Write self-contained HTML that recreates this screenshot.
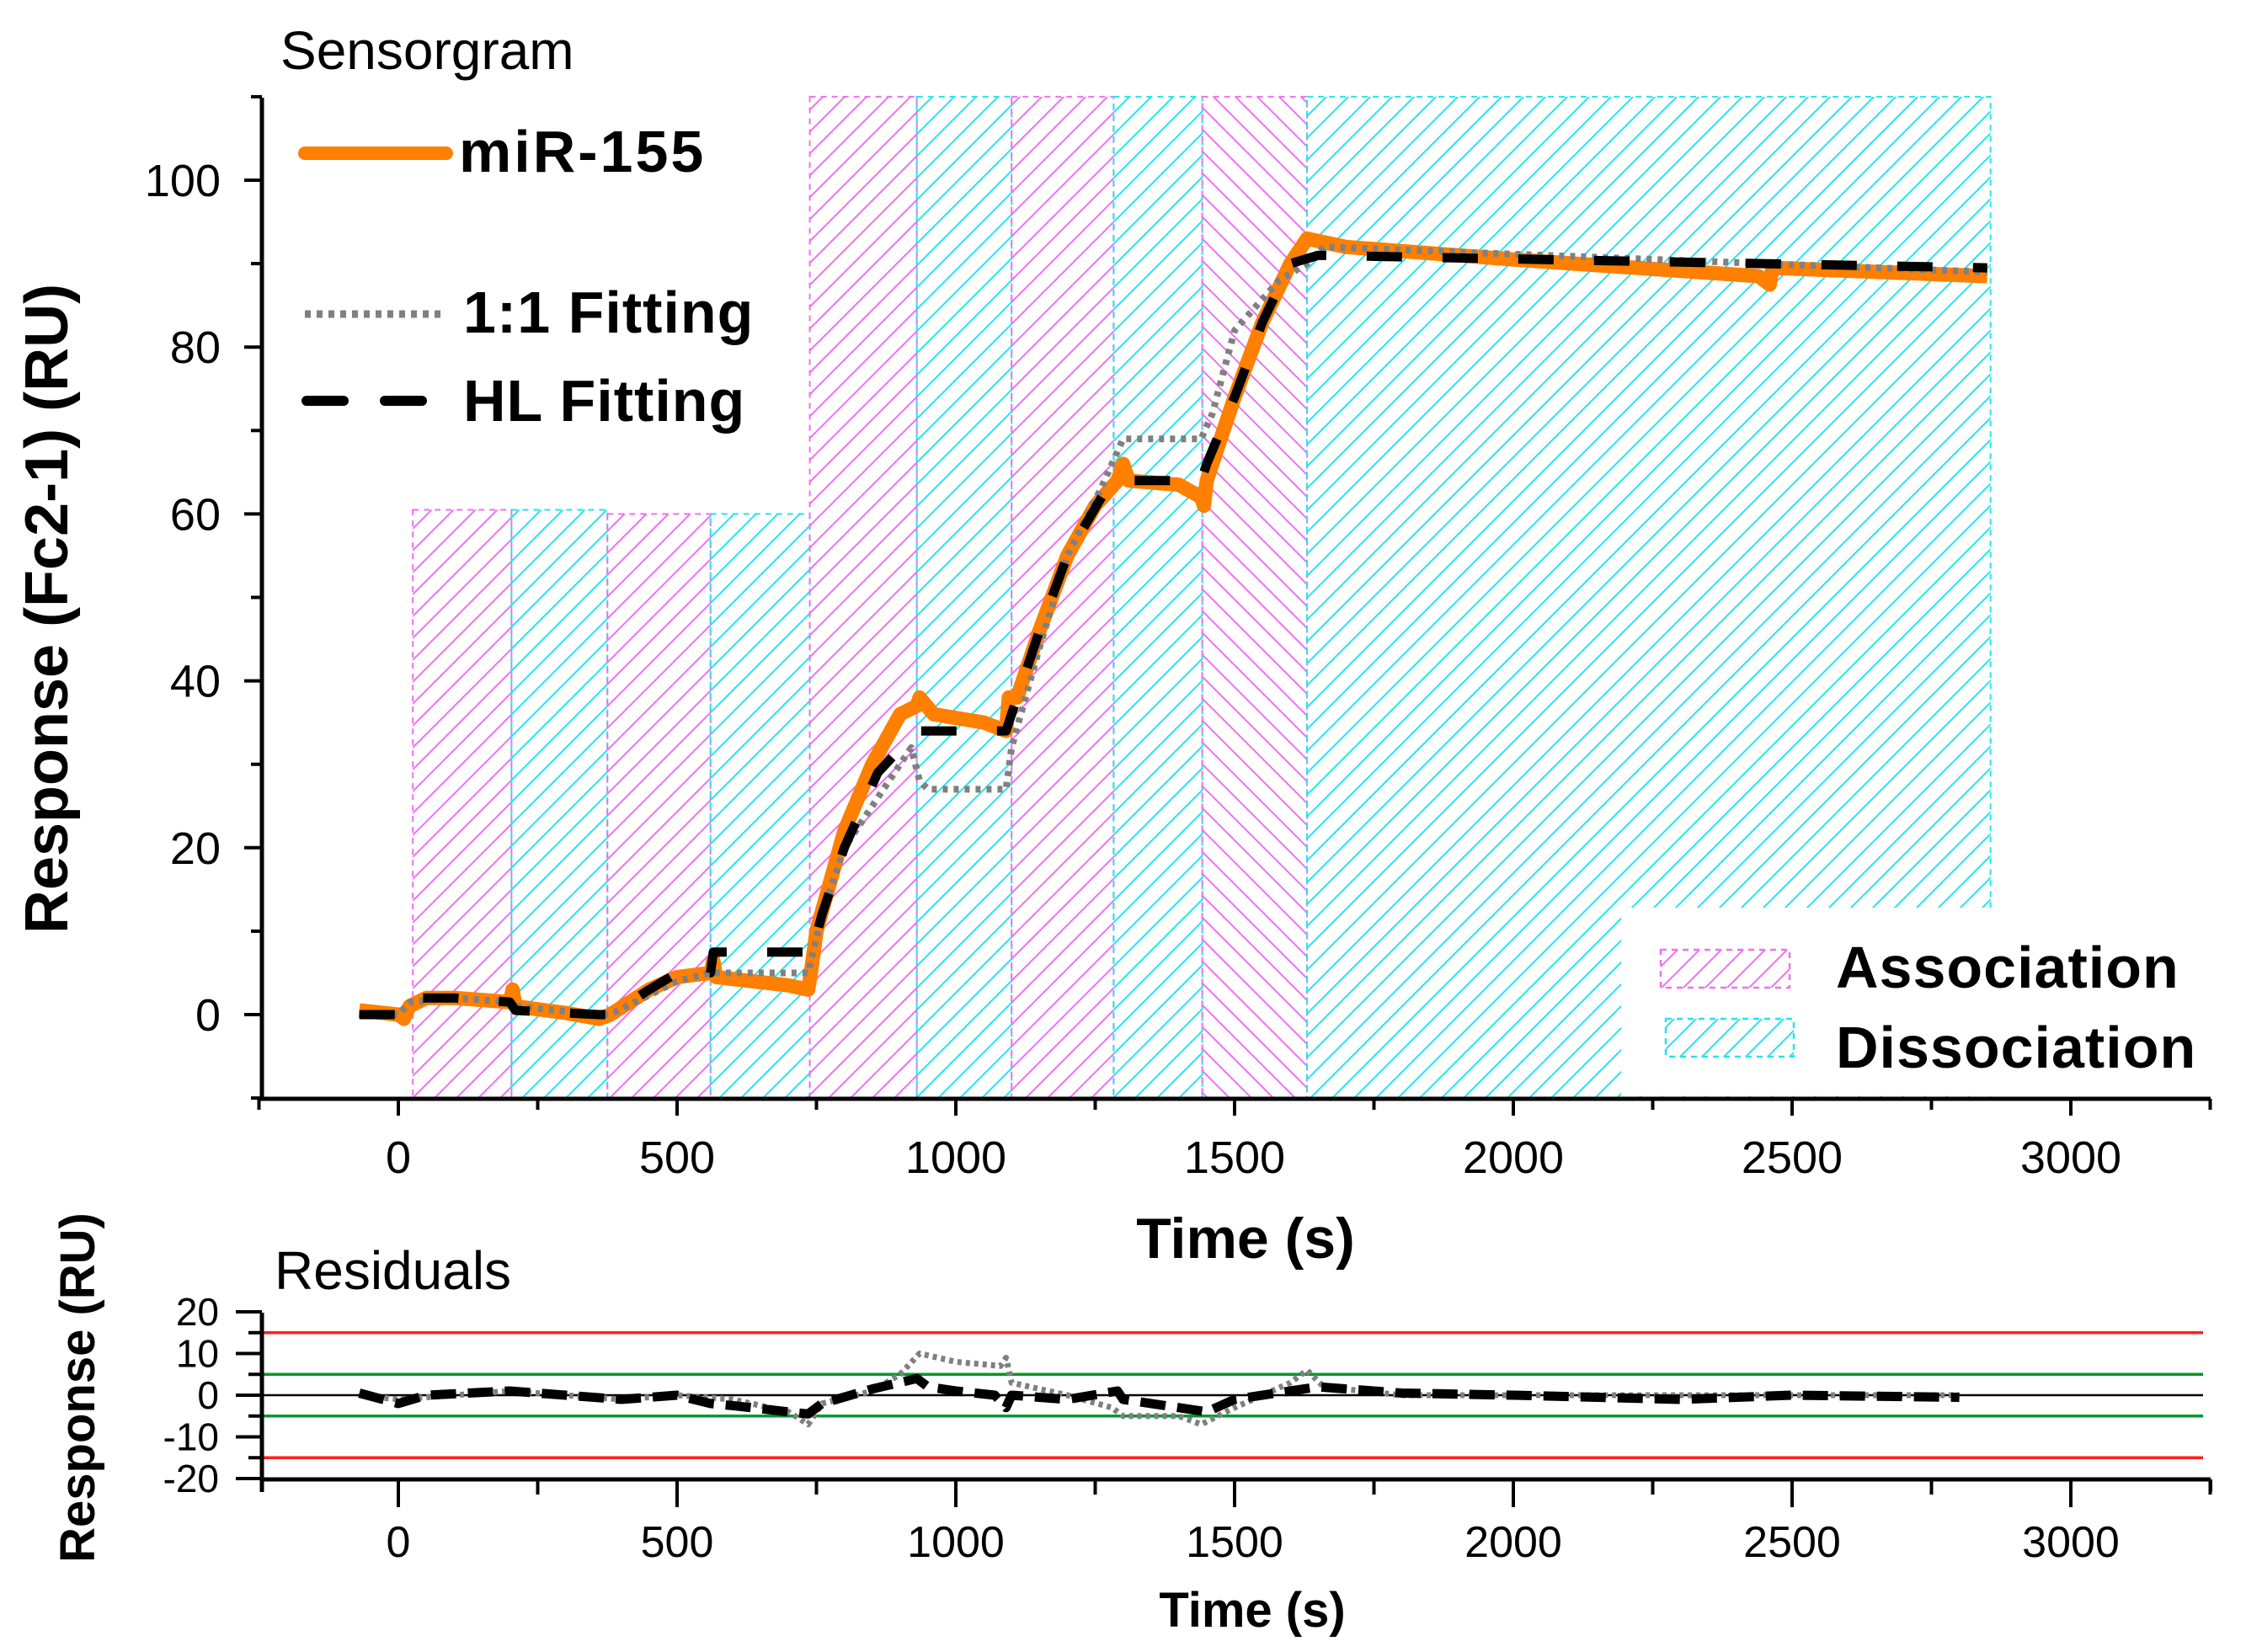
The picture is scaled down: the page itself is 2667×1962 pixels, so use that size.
<!DOCTYPE html>
<html><head><meta charset="utf-8"><style>
html,body{margin:0;padding:0;background:#fff;}
svg{display:block;font-family:"Liberation Sans",Arial,sans-serif;}
</style></head><body>
<svg id="chart" width="2667" height="1962" viewBox="0 0 2667 1962" xmlns="http://www.w3.org/2000/svg">
<defs>
<pattern id="hp" patternUnits="userSpaceOnUse" width="26" height="26"><path d="M-5,31 L31,-5 M-5,5 L5,-5 M21,31 L31,21" stroke="#f070f0" stroke-width="2"/></pattern>
<pattern id="hp2" patternUnits="userSpaceOnUse" width="26" height="26"><path d="M-5,-5 L31,31 M21,-5 L31,5 M-5,21 L5,31" stroke="#f070f0" stroke-width="2"/></pattern>
<pattern id="hc" patternUnits="userSpaceOnUse" width="26" height="26"><path d="M-5,31 L31,-5 M-5,5 L5,-5 M21,31 L31,21" stroke="#22e6ee" stroke-width="2"/></pattern>
<clipPath id="clipMain"><rect x="311" y="100" width="2330" height="1205"/></clipPath>
</defs>
<g id="regions" clip-path="url(#clipMain)"></g>
<rect x="1925" y="1078" width="720" height="224" fill="#fff"/>
<g id="main"></g>
<g id="resid"></g>
<g id="texts" fill="#000">
<text x="333" y="82" font-size="64">Sensorgram</text>
<text transform="translate(80,723) rotate(-90)" text-anchor="middle" font-size="72" font-weight="bold">Response (Fc2-1) (RU)</text>
<text x="1479" y="1494" text-anchor="middle" font-size="68" font-weight="bold">Time (s)</text>
<g>
<line x1="362" y1="182" x2="530" y2="182" stroke="#ff7f00" stroke-width="16" stroke-linecap="round"/>
<text x="545" y="204" font-size="70" font-weight="bold" letter-spacing="3">miR-155</text>
<line x1="362" y1="373" x2="528" y2="373" stroke="#808080" stroke-width="9" stroke-dasharray="7,7"/>
<text x="550" y="395" font-size="70" font-weight="bold" letter-spacing="1">1:1 Fitting</text>
<line x1="364" y1="476" x2="408" y2="476" stroke="#000" stroke-width="12" stroke-linecap="round"/>
<line x1="457" y1="476" x2="501" y2="476" stroke="#000" stroke-width="12" stroke-linecap="round"/>
<text x="550" y="500" font-size="70" font-weight="bold" letter-spacing="1">HL Fitting</text>
<rect x="1972" y="1128" width="153" height="45" fill="url(#hp)" stroke="#f070f0" stroke-width="2.5" stroke-dasharray="7,6"/>
<text x="2180" y="1173" font-size="70" font-weight="bold" letter-spacing="1">Association</text>
<rect x="1978" y="1210" width="152" height="45" fill="url(#hc)" stroke="#22e6ee" stroke-width="2.5" stroke-dasharray="7,6"/>
<text x="2180" y="1268" font-size="70" font-weight="bold" letter-spacing="1">Dissociation</text>
</g>
<text x="326" y="1531" font-size="64">Residuals</text>
<text transform="translate(112,1648) rotate(-90)" text-anchor="middle" font-size="58" font-weight="bold">Response (RU)</text>
<text x="1487" y="1932" text-anchor="middle" font-size="58" font-weight="bold">Time (s)</text>
</g>
</svg>
<script>
const regionStarts=[26,203,375,560,738,930,1100,1283,1442,1630];
const regionEnds=[203,375,560,738,930,1100,1283,1442,1630,2856];
const regionTops=[60.5,60.5,60,60,110,110,110,110,110,110];
const regionKinds=['association','dissociation','association','dissociation','association','dissociation','association','dissociation','association','dissociation'];
const xTicks=[0,500,1000,1500,2000,2500,3000];
const yTicks=[0,20,40,60,80,100];
const rTicks=[20,10,0,-10,-20];
const mirT=[-70,0,10,20,50,100,200,205,210,300,360,380,450,500,560,565,570,700,735,740,750,800,850,900,930,935,960,1050,1090,1095,1110,1150,1200,1250,1290,1300,1310,1400,1440,1445,1450,1500,1550,1600,1630,1700,2000,2440,2460,2465,2850];
const mirV=[0.5,0,-0.5,1,2,2,1.5,3,1,0.2,-0.5,0,3,4.5,5,6.5,4.5,3.5,3,5,10,22,30,36,37,38,36,35,34,38,38,46,55,61,64,66,64,63.5,62,61,64,74,83,90,93,92,90.5,88.5,87.5,89.5,88.5];
const fit11T=[-70,0,20,100,200,210,360,380,500,560,735,760,800,880,920,935,950,1090,1100,1150,1200,1260,1300,1440,1460,1500,1580,1630,1660,2850];
const fit11V=[0,0,1.5,2,1.5,1,0,0,4,5,5,12,20,28,32,28,27,27,32,44,55,63,69,69,72,82,88,90,92,89];
const hlT=[-70,10,20,100,200,210,360,380,450,500,560,565,735,740,760,800,860,930,1090,1100,1150,1200,1270,1290,1440,1450,1500,1550,1600,1650,2850];
const hlV=[0,0,2,2,1.5,0.5,0,0,3,5,5,7.5,7.5,7,12,20,29,34,34,36,46,55,63,64,64,66,74,83,90,91,89.5];
const res11T=[-70,0,100,200,300,400,500,600,700,735,760,850,900,935,1000,1080,1090,1100,1200,1280,1300,1400,1440,1500,1600,1630,1660,1800,2800];
const res11V=[0,-1,0,1,0,-1,0,-1,-4,-7,-2,1,5,10,8,7,9,3,0,-3,-5,-5,-7,-3,3,6,2,0,0];
const resHLT=[-70,0,50,200,300,400,500,560,600,700,735,760,850,930,950,1000,1070,1090,1100,1200,1290,1300,1400,1450,1500,1600,1650,1800,2000,2300,2500,2800];
const resHLV=[0.5,-2,0,1,0,-1,0,-2,-2.5,-4,-4.5,-2,1.5,4,2,1,0,-3,0,-1,1,-1,-3,-4,-1,1,2,0.5,0,-1,0,-0.5];

const NS='http://www.w3.org/2000/svg';
const X=t=>473+t*0.662;
const Y=v=>1205-v*9.91;
const RY=v=>1657-v*4.95;
function mk(tag,attrs,parent){const e=document.createElementNS(NS,tag);for(const k in attrs)e.setAttribute(k,attrs[k]);parent.appendChild(e);return e;}
const reg=document.getElementById('regions'),main=document.getElementById('main'),res=document.getElementById('resid');
regionStarts.forEach((s,i)=>{
  const assoc=regionKinds[i]==='association';
  const fill=assoc?(i===8?'url(#hp2)':'url(#hp)'):'url(#hc)';
  const col=assoc?'#f070f0':'#22e6ee';
  const r=mk('rect',{x:X(s),y:Y(regionTops[i]),width:X(regionEnds[i])-X(s),height:Y(-10)-Y(regionTops[i]),fill:fill,stroke:col,'stroke-width':2,'stroke-dasharray':'7,6'},reg);
  
  
});
const ax=mk('path',{d:`M311,116 L311,1305 L2625,1305`,fill:'none',stroke:'#000','stroke-width':5},main);


for(let t=-250;t<=3250;t+=250){mk('line',{x1:X(t),y1:1305,x2:X(t),y2:t%500===0?1325:1318,stroke:'#000','stroke-width':4},main);}
for(let v=-10;v<=110;v+=10){mk('line',{x1:311,y1:Y(v),x2:v%20===0?290:298,y2:Y(v),stroke:'#000','stroke-width':4},main);}
xTicks.forEach(t=>{const e=mk('text',{x:X(t),y:1393,'text-anchor':'middle','font-size':54},main);e.textContent=t;

});
yTicks.forEach(v=>{const e=mk('text',{x:262,y:Y(v)+19,'text-anchor':'end','font-size':54},main);e.textContent=v;

});
function line(ts,vs,yf,attrs,parent,name){const d=ts.map((t,i)=>(i?'L':'M')+X(t).toFixed(1)+','+yf(vs[i]).toFixed(1)).join(' ');const p=mk('path',Object.assign({d:d,fill:'none','stroke-linejoin':'round'},attrs),parent);

return p;}
line(mirT,mirV,Y,{stroke:'#ff7f00','stroke-width':17},main,'mir155-line');
line(fit11T,fit11V,Y,{stroke:'#808080','stroke-width':8,'stroke-dasharray':'6,7'},main,'fit-1-1-line');
line(hlT,hlV,Y,{stroke:'#000','stroke-width':11,'stroke-dasharray':'42,48'},main,'hl-fit-line');
[[15,'#ff2020'],[-15,'#ff2020'],[5,'#00992a'],[-5,'#00992a'],[0,'#000']].forEach(([v,c])=>{const l=mk('line',{x1:313,y1:RY(v),x2:2616,y2:RY(v),stroke:c,'stroke-width':v===0?2.5:3.5},res);

});
const rax=mk('path',{d:`M311,1559 L311,1772 M311,1757 L2625,1757`,fill:'none',stroke:'#000','stroke-width':5},res);


mk('line',{x1:2625,y1:1757,x2:2625,y2:1772,stroke:'#000','stroke-width':4},res);
for(let t=0;t<=3250;t+=250){mk('line',{x1:X(t),y1:1757,x2:X(t),y2:t%500===0?1790:1775,stroke:'#000','stroke-width':4},res);}
for(let v=-20;v<=20;v+=5){mk('line',{x1:311,y1:RY(v),x2:v%10===0?280:295,y2:RY(v),stroke:'#000','stroke-width':4},res);}
xTicks.forEach(t=>{const e=mk('text',{x:X(t),y:1849,'text-anchor':'middle','font-size':52},res);e.textContent=t;

});
rTicks.forEach(v=>{const e=mk('text',{x:260,y:RY(v)+16,'text-anchor':'end','font-size':46},res);e.textContent=v;

});
line(res11T,res11V,RY,{stroke:'#808080','stroke-width':7,'stroke-dasharray':'5,5'},res,'residual-1-1-line');
line(resHLT,resHLV,RY,{stroke:'#000','stroke-width':11,'stroke-dasharray':'30,14'},res,'residual-hl-line');
</script>
</body></html>
